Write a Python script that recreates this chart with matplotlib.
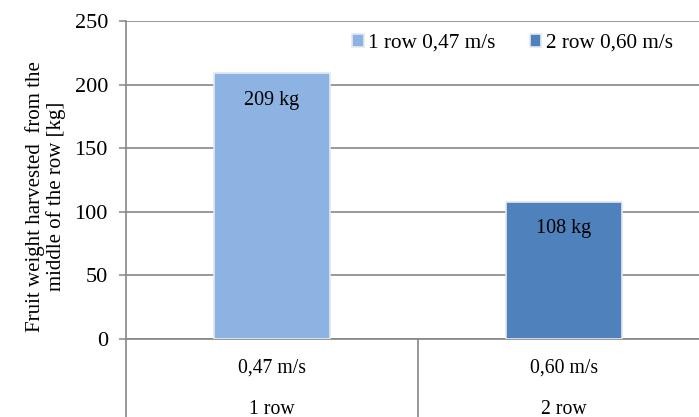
import numpy as np
import matplotlib.pyplot as plt
from matplotlib.transforms import blended_transform_factory

plt.rcParams['font.family'] = ['Liberation Serif', 'DejaVu Serif']

categories = ['0,47 m/s', '0,60 m/s']
row_labels = ['1 row', '2 row']
series_names = ['1 row 0,47 m/s', '2 row 0,60 m/s']
values = [209, 108]
value_labels = ['209 kg', '108 kg']
colors = ['#8DB3E2', '#4F81BD']
yticks = [0, 50, 100, 150, 200, 250]

fig = plt.figure(figsize=(6.99, 4.17), dpi=100)
ax = fig.add_axes([126 / 699, 78 / 417, 584 / 699, 318 / 417])

grid_c = '#868686'
x = np.arange(len(categories))
for i, (v, c, name) in enumerate(zip(values, colors, series_names)):
    ax.bar(x[i], v, width=0.395, color=c, edgecolor='#E4E9F0', linewidth=1.2,
           label=name, zorder=3)
    ax.annotate(value_labels[i], xy=(x[i], v), xytext=(0, -19.5),
                textcoords='offset points', ha='center', va='center',
                fontsize=14.5, zorder=4)

ax.set_xlim(-0.5, 1.5)
ax.set_ylim(0, 250)
ax.set_yticks(yticks)
ax.yaxis.grid(True, color=grid_c, linewidth=1.2, zorder=0)
ax.set_axisbelow(True)
ax.tick_params(axis='y', length=5, width=1.1, color=grid_c, pad=8, labelsize=16)
ax.tick_params(axis='x', length=0, labelbottom=False)
for s in ['top', 'right']:
    ax.spines[s].set_visible(False)
for s in ['left', 'bottom']:
    ax.spines[s].set_color(grid_c)
    ax.spines[s].set_linewidth(1.2)

trans = blended_transform_factory(ax.transData, ax.transAxes)
for i in range(len(categories)):
    ax.text(x[i], -0.091, categories[i], transform=trans, ha='center',
            va='center', fontsize=14.2)
    ax.text(x[i], -0.222, row_labels[i], transform=trans, ha='center',
            va='center', fontsize=14.2)
for xb in [-0.5, 0.5]:
    ax.plot([xb, xb], [0, -0.3], transform=trans, color=grid_c,
            linewidth=1.2, clip_on=False)

ax.set_ylabel('Fruit weight harvested  from the\nmiddle of the row [kg]',
              fontsize=15, linespacing=1.05)
ax.yaxis.set_label_coords(-0.103, 0.447)

ax.legend(loc='upper left', bbox_to_anchor=(0.355, 1.02), ncol=2, frameon=False,
          fontsize=15.3, handlelength=0.55, handleheight=0.55, handletextpad=0.2,
          columnspacing=1.6)

fig.savefig('out.png', dpi=100)
